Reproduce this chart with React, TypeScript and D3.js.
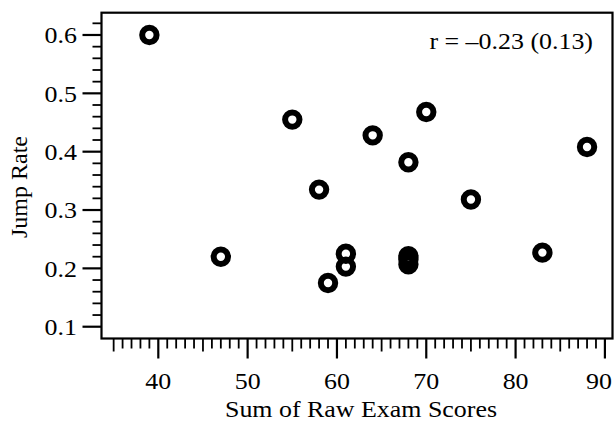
import React from 'react';
import * as d3 from 'd3';

// exam score sum vs jump rate, one point per subject
const scores = [39, 47, 55, 58, 59, 61, 61, 64, 68, 68, 68, 68, 70, 75, 83, 88];
const jumpRates = [0.6, 0.22, 0.455, 0.335, 0.175, 0.225, 0.203, 0.428, 0.382, 0.221, 0.215, 0.207, 0.468, 0.318, 0.227, 0.408];

const xMajor = [40, 50, 60, 70, 80, 90];
const yMajor = [0.1, 0.2, 0.3, 0.4, 0.5, 0.6];
const xTitle = 'Sum of Raw Exam Scores';
const yTitle = 'Jump Rate';
const note = 'r = \u20130.23 (0.13)';

const W = 615;
const H = 425;
const FONT = '"Liberation Serif", "Times New Roman", serif';
const FS = 24;
const SX = 1.08; // the scan is a bit wide

export default function App() {
  const left = 101.5, right = 612.5, top = 12.7, bottom = 338.5;

  const x = d3.scaleLinear().domain([33.64, 90.85]).range([left, right]);
  const y = d3.scaleLinear().domain([0.0798, 0.6382]).range([bottom, top]);

  const xMinor = d3.range(35, 91, 1);
  const yMinor = d3.range(10, 63, 2).map(v => v / 100);

  const pts = scores.map((s, i) => ({ s, r: jumpRates[i] }));

  // keep the last tick label inside the picture
  const labelX = (v: number) => Math.min(x(v), W - 16);

  return (
    <div style={{ position: 'fixed', left: 0, top: 0 }}>
      <svg width={W} height={H} style={{ display: 'block', background: '#fff', fontFamily: FONT }}>
        <rect x={0} y={0} width={W} height={H} fill="#fff" />

        {/* y ticks */}
        {yMinor.map(v => {
          const major = yMajor.some(m => Math.abs(m - v) < 1e-6);
          return (
            <line key={'ym' + v} x1={left - (major ? 19 : 9)} x2={left} y1={y(v)} y2={y(v)}
              stroke="#000" strokeWidth={major ? 2.2 : 1.8} />
          );
        })}
        {yMajor.map(v => (
          <text key={'yl' + v} transform={`translate(77,${y(v)}) scale(${SX},1)`} textAnchor="end"
            dy="0.34em" fontSize={FS} fill="#000">{d3.format('.1f')(v)}</text>
        ))}

        {/* x ticks */}
        {xMinor.map(v => {
          const len = v % 10 === 0 ? 20 : v % 5 === 0 ? 13 : 10;
          return (
            <line key={'xm' + v} x1={x(v)} x2={x(v)} y1={bottom} y2={bottom + len}
              stroke="#000" strokeWidth={v % 10 === 0 ? 2.2 : 1.8} />
          );
        })}
        {xMajor.map(v => (
          <text key={'xl' + v} transform={`translate(${labelX(v)},389) scale(${SX},1)`} textAnchor="middle"
            fontSize={FS} fill="#000">{v}</text>
        ))}

        {/* frame */}
        <rect x={left} y={top} width={right - left} height={bottom - top} fill="none" stroke="#000" strokeWidth={2.2} />

        {/* points */}
        {pts.map((p, i) => (
          <circle key={i} cx={x(p.s)} cy={y(p.r)} r={7.2} fill="none" stroke="#000" strokeWidth={6} />
        ))}

        <text transform={`translate(593,49) scale(${SX},1)`} textAnchor="end" fontSize={FS} fill="#000">{note}</text>

        <text transform={`translate(361,417) scale(${SX},1)`} textAnchor="middle" fontSize={FS} fill="#000">{xTitle}</text>
        <text transform="translate(27,187) rotate(-90)" textAnchor="middle" fontSize={FS} fill="#000">{yTitle}</text>
      </svg>
    </div>
  );
}
